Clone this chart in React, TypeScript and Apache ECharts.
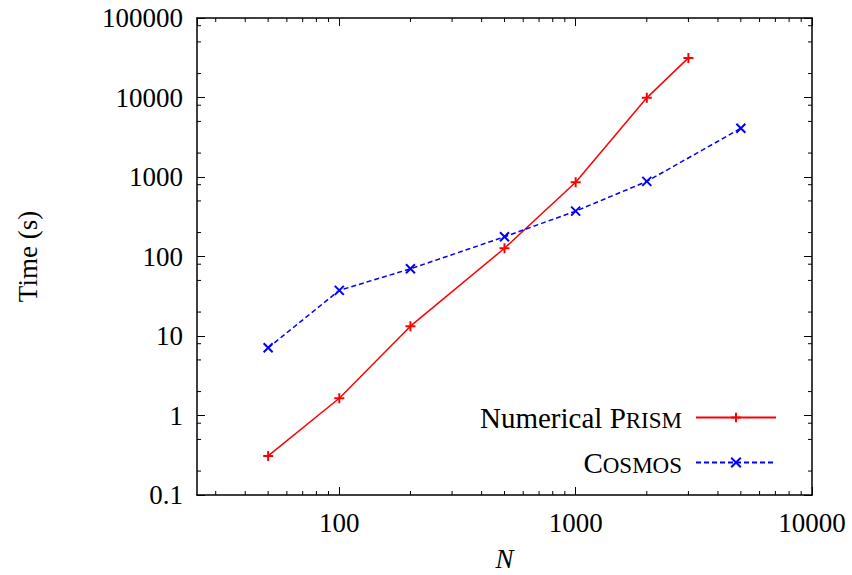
import React, { useEffect, useRef } from "react";
import * as echarts from "echarts";

const nValues = [50, 100, 200, 500, 1000, 2000, 3000];
const prismTimes = [0.31, 1.65, 13.3, 127, 860, 9900, 31500];
const cosmosN = [50, 100, 200, 500, 1000, 2000, 5000];
const cosmosTimes = [7.1, 37.5, 70, 177, 372, 880, 4100];
const xMinorTicks = [30, 40, 50, 60, 70, 80, 90, 200, 300, 400, 500, 600, 700, 800, 900, 2000, 3000, 4000, 5000, 6000, 7000, 8000, 9000];
const yMinorTicks = [0.2, 0.5, 0.8, 2, 5, 8, 20, 50, 80, 200, 500, 800, 2000, 5000, 8000, 20000, 50000, 80000];

const FONT = "Liberation Serif";
const RED = "#ff0000";
const BLUE = "#0000ff";

const plusPath = "path://M0,5L10,5M5,0L5,10";
const crossPath = "path://M0,0L10,10M0,10L10,0";

export default function App() {
  const ref = useRef<HTMLDivElement>(null);
  useEffect(() => {
    if (!ref.current) return;
    const chart = echarts.init(ref.current, null, { renderer: "svg" });
    const fmt = (v: number) => String(+Number(v).toPrecision(6));
    const axisCommon = {
      type: "log" as const,
      logBase: 10,
      axisLine: { show: true, lineStyle: { color: "#000", width: 1.5 } },
      axisTick: { show: true, inside: true, length: 8, lineStyle: { color: "#000", width: 1 } },
      splitLine: { show: false },
      minorTick: { show: false },
    };
    const minorRender = (isX: boolean) => (params: any, api: any) => {
      const cs = params.coordSys;
      const stroke = { stroke: "#000", lineWidth: 1 };
      const len = 4;
      if (isX) {
        const px = api.coord([api.value(0), api.value(1)])[0];
        const b = cs.y + cs.height;
        return {
          type: "group",
          children: [
            { type: "line", shape: { x1: px, y1: b, x2: px, y2: b - len }, style: stroke },
            { type: "line", shape: { x1: px, y1: cs.y, x2: px, y2: cs.y + len }, style: stroke },
          ],
        };
      }
      const py = api.coord([api.value(0), api.value(1)])[1];
      const r = cs.x + cs.width;
      return {
        type: "group",
        children: [
          { type: "line", shape: { x1: cs.x, y1: py, x2: cs.x + len, y2: py }, style: stroke },
          { type: "line", shape: { x1: r, y1: py, x2: r - len, y2: py }, style: stroke },
        ],
      };
    };
    const legendCommon = {
      orient: "horizontal" as const,
      align: "right" as const,
      right: 75,
      itemWidth: 80,
      itemHeight: 12,
      padding: 0,
      textStyle: {
        fontFamily: FONT,
        fontSize: 29,
        color: "#000",
        padding: [0, 9, 0, 0],
        rich: {
          a: { fontFamily: FONT, fontSize: 29, color: "#000", verticalAlign: "bottom" },
          b: { fontFamily: FONT, fontSize: 23, color: "#000", verticalAlign: "bottom" },
        },
      },
    };
    chart.setOption({
      animation: false,
      textStyle: { fontFamily: FONT },
      grid: { left: 197, right: 40, top: 18, bottom: 80, containLabel: false, outerBoundsMode: "none" },
      xAxis: [
        {
          ...axisCommon,
          min: 25,
          max: 10000,
          position: "bottom",
          name: "N",
          nameLocation: "middle",
          nameGap: 50,
          nameTextStyle: { fontFamily: FONT, fontSize: 27, fontStyle: "italic", color: "#000" },
          axisLabel: { show: true, showMinLabel: false, margin: 14, fontFamily: FONT, fontSize: 27, color: "#000", formatter: fmt },
        },
        {
          ...axisCommon,
          min: 25,
          max: 10000,
          position: "top",
          axisLabel: { show: false },
        },
      ],
      yAxis: [
        {
          ...axisCommon,
          min: 0.1,
          max: 100000,
          position: "left",
          name: "Time (s)",
          nameLocation: "middle",
          nameGap: 156,
          nameTextStyle: { fontFamily: FONT, fontSize: 27, color: "#000" },
          axisLabel: { show: true, margin: 14, fontFamily: FONT, fontSize: 27, color: "#000", formatter: fmt },
        },
        {
          ...axisCommon,
          min: 0.1,
          max: 100000,
          position: "right",
          axisLabel: { show: false },
        },
      ],
      legend: [
        {
          ...legendCommon,
          top: 403,
          data: ["Numerical Prism"],
          formatter: () => "{a|Numerical P}{b|RISM}",
        },
        {
          ...legendCommon,
          top: 448,
          data: ["Cosmos"],
          formatter: () => "{a|C}{b|OSMOS}",
        },
      ],
      series: [
        {
          name: "Numerical Prism",
          type: "line",
          xAxisIndex: 0,
          yAxisIndex: 0,
          data: nValues.map((n, i) => [n, prismTimes[i]]),
          symbol: plusPath,
          symbolSize: 10,
          showSymbol: true,
          lineStyle: { color: RED, width: 1.5, type: "solid" },
          itemStyle: { color: RED, borderColor: RED, borderWidth: 2 },
        },
        {
          name: "Cosmos",
          type: "line",
          xAxisIndex: 0,
          yAxisIndex: 0,
          data: cosmosN.map((n, i) => [n, cosmosTimes[i]]),
          symbol: crossPath,
          symbolSize: 9,
          showSymbol: true,
          lineStyle: { color: BLUE, width: 1.5, type: [5, 3] },
          itemStyle: { color: BLUE, borderColor: BLUE, borderWidth: 2 },
        },
        {
          type: "custom",
          xAxisIndex: 0,
          yAxisIndex: 0,
          silent: true,
          renderItem: minorRender(true),
          data: xMinorTicks.map((x) => [x, 1]),
          z: 1,
        },
        {
          type: "custom",
          xAxisIndex: 0,
          yAxisIndex: 0,
          silent: true,
          renderItem: minorRender(false),
          data: yMinorTicks.map((y) => [100, y]),
          z: 1,
        },
      ],
    });
    return () => chart.dispose();
  }, []);
  return (
    <div
      ref={ref}
      style={{ position: "absolute", left: 0, top: 0, width: 852, height: 575, background: "#fff" }}
    />
  );
}
